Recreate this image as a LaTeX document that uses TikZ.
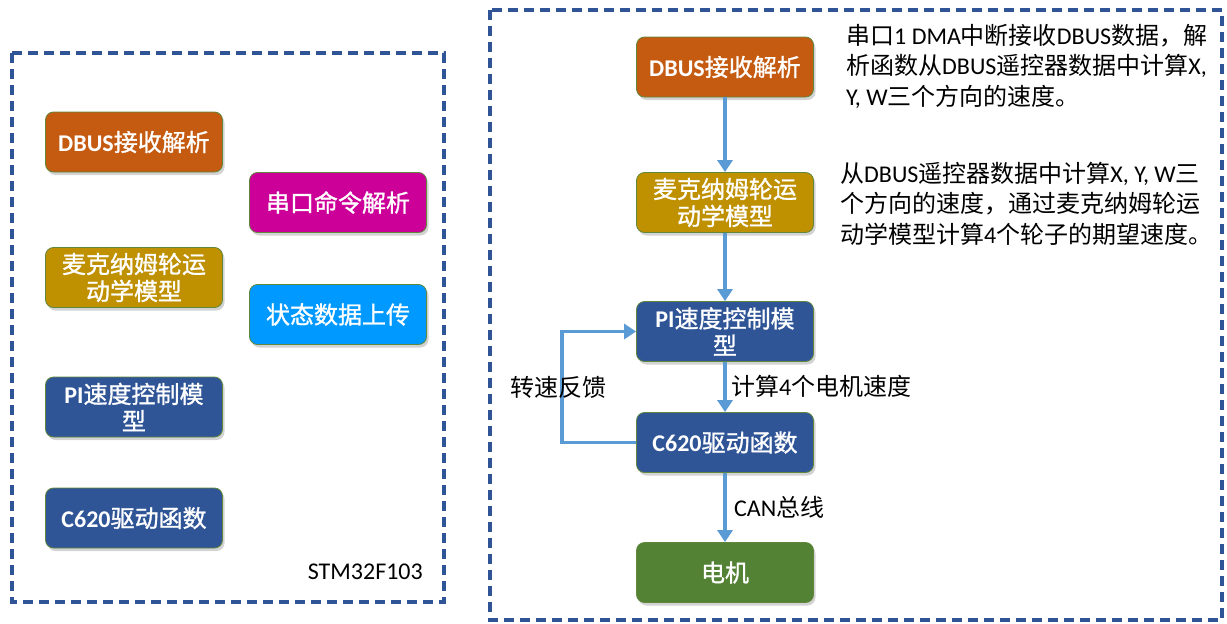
\documentclass[tikz,border=0pt]{standalone}
\usepackage{fontspec}
\setmainfont{Noto Sans CJK SC}[BoldFont=Noto Sans CJK SC,BoldFeatures={FakeBold=1.2}]
\newfontfamily\lat{Carlito}
\usetikzlibrary{arrows.meta,shadows}
\definecolor{FrameBlue}{RGB}{47,85,151}
\definecolor{DbusOrange}{RGB}{197,90,17}
\definecolor{CmdMagenta}{RGB}{204,0,153}
\definecolor{MecanumGold}{RGB}{191,144,0}
\definecolor{UploadBlue}{RGB}{0,153,255}
\definecolor{CtrlBlue}{RGB}{47,85,151}
\definecolor{MotorGreen}{RGB}{84,130,53}
\definecolor{BoxLine}{RGB}{96,135,60}
\definecolor{FlowBlue}{RGB}{91,155,213}
\newcommand{\en}[1]{{\lat #1}}

\begin{document}
\begin{tikzpicture}[x=1pt,y=-1pt,
        block/.style={rounded corners=8pt,draw=BoxLine,line width=0.8pt,
                      minimum width=177pt,minimum height=60pt,align=center,
                      text=white,font=\fontsize{24}{27}\selectfont\bfseries,
                      drop shadow={shadow xshift=2pt,shadow yshift=-3pt,opacity=0.35}},
        frame/.style={draw=FrameBlue,line width=3.8pt,dash pattern=on 10pt off 6pt},
        flow/.style={draw=FlowBlue,line width=3.8pt,-{Triangle[width=15pt,length=12pt]}},
        note/.style={align=left,inner sep=0pt,font=\fontsize{24}{30.5}\selectfont},
        tag/.style={inner sep=0pt,font=\fontsize{24}{27}\selectfont}
      ]
        \useasboundingbox (0,0) rectangle (1227,624);
        % left: modules on the STM32F103
        \draw[frame] (12,53) rectangle (444,602);
        \node[block,fill=DbusOrange] (ldbus) at (134,142) {\en{DBUS}接收解析};
        \node[block,fill=CmdMagenta] (lcmd) at (338,202.5) {串口命令解析};
        \node[block,fill=MecanumGold] (lmec) at (134,277.5) {麦克纳姆轮运\\动学模型};
        \node[block,fill=UploadBlue] (lup) at (338,314.5) {状态数据上传};
        \node[block,fill=CtrlBlue] (lpi) at (134,407) {\en{PI}速度控制模\\型};
        \node[block,fill=CtrlBlue] (ldrv) at (134,518) {\en{C620}驱动函数};
        \node[anchor=east,inner sep=0pt,font=\fontsize{24}{27}\selectfont\lat] (chip) at (423,572) {STM32F103};
        % right: data flow
        \draw[frame] (490,10) rectangle (1222,620);
        \node[block,fill=DbusOrange] (dbus) at (725,67) {\en{DBUS}接收解析};
        \node[block,fill=MecanumGold] (mec) at (725,202.5) {麦克纳姆轮运\\动学模型};
        \node[block,fill=CtrlBlue] (pi) at (725,331.5) {\en{PI}速度控制模\\型};
        \node[block,fill=CtrlBlue] (drv) at (725,442.5) {\en{C620}驱动函数};
        \node[block,fill=MotorGreen] (motor) at (725,572.5) {电机};
        \draw[flow] (dbus) -- (mec);
        \draw[flow] (mec) -- (pi);
        \draw[flow] (pi) -- (drv);
        \draw[flow] (drv) -- (motor);
        \coordinate (fb) at (562,390);
        \draw[flow] (drv.west) -| (fb) |- (pi.west);
        \node[tag] (fblabel) at (558,387) {转速反馈};
        \node[tag,anchor=west] (calc) at (731,386) {计算\en{4}个电机速度};
        \node[tag,anchor=west] (can) at (734,507) {\en{CAN}总线};
        \node[note,anchor=north west] (dbusnote) at (846,24)
          {串口\en{1 DMA}中断接收\en{DBUS}数据，解\\析函数从\en{DBUS}遥控器数据中计算\en{X,}\\\en{Y, W}三个方向的速度。};
        \node[note,anchor=north west] (mecnote) at (840,162)
          {从\en{DBUS}遥控器数据中计算\en{X, Y, W}三\\个方向的速度，通过麦克纳姆轮运\\动学模型计算\en{4}个轮子的期望速度。};
      \end{tikzpicture}
\end{document}
